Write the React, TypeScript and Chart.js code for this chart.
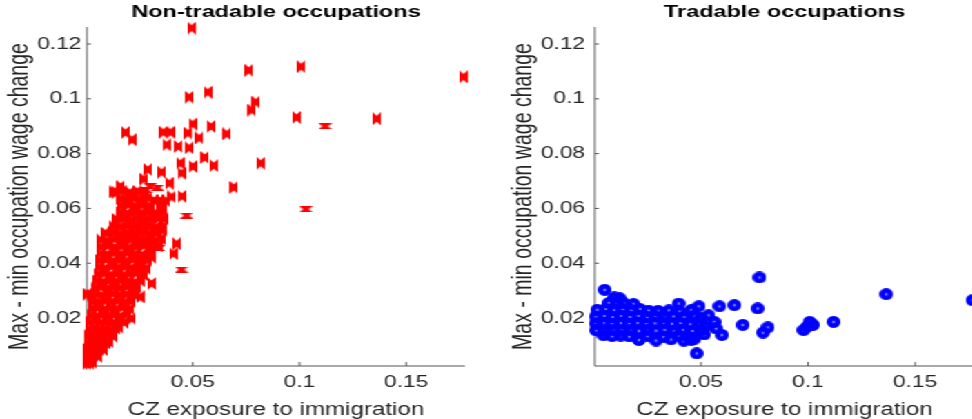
import React, { useEffect, useRef } from "react";
import { Chart, registerables } from "chart.js";

Chart.register(...registerables);

// ---------- data ----------
const X_MIN = 0.0004;
const X_MAX = 0.1776;
const Y_MIN = 0.0025;
const Y_MAX = 0.1262;

const xTickValues = [0.05, 0.1, 0.15];
const xTickLabels = ["0.05", "0.1", "0.15"];
const yTickValues = [0.02, 0.04, 0.06, 0.08, 0.1, 0.12];
const yTickLabels = ["0.02", "0.04", "0.06", "0.08", "0.1", "0.12"];

const panelTitles = ["Non-tradable occupations", "Tradable occupations"];
const xAxisTitle = "CZ exposure to immigration";
const yAxisTitle = "Max - min occupation wage change";

// Non-tradable occupations: [exposure, wage change]
const nonTradable: [number, number][] = [
  [0.0005, 0.0035], [0.0018, 0.0035], [0.0032, 0.0038],
  [0.0005, 0.006], [0.002, 0.0058], [0.0038, 0.0062], [0.0055, 0.006],
  [0.0006, 0.0085], [0.0024, 0.0088], [0.0043, 0.0083], [0.0062, 0.0087], [0.008, 0.0085],
  [0.0008, 0.011], [0.0027, 0.0113], [0.0048, 0.0108], [0.007, 0.0112], [0.0092, 0.0109], [0.0106, 0.0114],
  [0.001, 0.0135], [0.0031, 0.0132], [0.0055, 0.0137], [0.0078, 0.0134], [0.0101, 0.0138], [0.0128, 0.0133],
  [0.0014, 0.016], [0.0036, 0.0163], [0.0062, 0.0158], [0.0088, 0.0161], [0.0112, 0.0157], [0.014, 0.0162], [0.0155, 0.0166],
  [0.0019, 0.0185], [0.0044, 0.0188], [0.007, 0.0183], [0.0097, 0.0186], [0.0124, 0.0182], [0.015, 0.0189], [0.0178, 0.0184],
  [0.0024, 0.021], [0.005, 0.0207], [0.0078, 0.0213], [0.0105, 0.0209], [0.0133, 0.0212], [0.016, 0.0206], [0.0192, 0.0214],
  [0.0028, 0.0235], [0.0056, 0.0238], [0.0085, 0.0232], [0.0113, 0.0236], [0.014, 0.0233], [0.017, 0.0239], [0.0205, 0.0234],
  [0.0032, 0.026], [0.006, 0.0257], [0.009, 0.0262], [0.012, 0.0259], [0.015, 0.0263], [0.018, 0.0258], [0.0212, 0.0261],
  [0.0006, 0.0287], [0.0022, 0.0284], [0.0045, 0.0288], [0.0072, 0.0283], [0.01, 0.0286], [0.0128, 0.0289], [0.0158, 0.0284], [0.019, 0.0287], [0.0228, 0.0283],
  [0.004, 0.031], [0.0068, 0.0313], [0.0098, 0.0308], [0.0128, 0.0312], [0.0158, 0.0309], [0.0188, 0.0314], [0.0218, 0.0308], [0.024, 0.0311],
  [0.005, 0.0335], [0.0078, 0.0332], [0.0108, 0.0337], [0.0138, 0.0333], [0.0168, 0.0338], [0.0198, 0.0334], [0.0228, 0.0331], [0.0255, 0.0336],
  [0.0056, 0.036], [0.0085, 0.0363], [0.0115, 0.0358], [0.0145, 0.0362], [0.0175, 0.0357], [0.0205, 0.0361], [0.0236, 0.0364], [0.0268, 0.0359],
  [0.006, 0.0385], [0.009, 0.0382], [0.012, 0.0388], [0.015, 0.0384], [0.0182, 0.0387], [0.0212, 0.0383], [0.0244, 0.0386], [0.028, 0.0382],
  [0.0062, 0.041], [0.0093, 0.0413], [0.0125, 0.0408], [0.0157, 0.0412], [0.0188, 0.0409], [0.022, 0.0414], [0.0252, 0.0408], [0.029, 0.0411],
  [0.0066, 0.0435], [0.0098, 0.0432], [0.013, 0.0437], [0.0163, 0.0433], [0.0195, 0.0438], [0.0228, 0.0434], [0.0262, 0.0431], [0.03, 0.0436],
  [0.007, 0.046], [0.0102, 0.0463], [0.0135, 0.0458], [0.0168, 0.0462], [0.02, 0.0457], [0.0235, 0.0461], [0.027, 0.0464], [0.031, 0.0459], [0.0338, 0.0464],
  [0.0068, 0.0485], [0.01, 0.0482], [0.0132, 0.0488], [0.0175, 0.0484], [0.021, 0.0487], [0.0245, 0.0483], [0.0282, 0.0486], [0.0322, 0.0482], [0.035, 0.049],
  [0.009, 0.051], [0.0122, 0.0513], [0.016, 0.0508], [0.0195, 0.0512], [0.023, 0.0509], [0.0265, 0.0514], [0.03, 0.0508], [0.0335, 0.0511],
  [0.0125, 0.0535], [0.0158, 0.0532], [0.019, 0.0537], [0.0222, 0.0533], [0.0255, 0.0538], [0.029, 0.0534], [0.0325, 0.0531], [0.0362, 0.0536],
  [0.0142, 0.056], [0.0175, 0.0563], [0.0208, 0.0558], [0.024, 0.0562], [0.0272, 0.0557], [0.0305, 0.0561], [0.034, 0.0564], [0.0368, 0.0562],
  [0.016, 0.0585], [0.0192, 0.0582], [0.0225, 0.0588], [0.0258, 0.0584], [0.029, 0.0587], [0.0325, 0.0583], [0.036, 0.0586],
  [0.0168, 0.061], [0.02, 0.0613], [0.0232, 0.0608], [0.0265, 0.0612], [0.03, 0.0609], [0.0345, 0.0611],
  [0.0158, 0.0635], [0.019, 0.0632], [0.0222, 0.0637], [0.0255, 0.0633], [0.029, 0.0638], [0.0318, 0.0629], [0.0375, 0.0628],
  [0.013, 0.066], [0.017, 0.0663], [0.0205, 0.0657], [0.024, 0.0662], [0.0275, 0.0659],
  [0.0214, 0.0198], [0.0253, 0.0277], [0.0307, 0.0326], [0.0307, 0.0422], [0.0409, 0.0435], [0.0424, 0.0471],
  [0.0362, 0.052], [0.0276, 0.0556], [0.0346, 0.0629], [0.0362, 0.0611], [0.0401, 0.0642], [0.0449, 0.0644],
  [0.0141, 0.0659], [0.0162, 0.068], [0.0206, 0.0655], [0.0271, 0.0707], [0.0289, 0.0742], [0.0354, 0.0732],
  [0.039, 0.0692], [0.0447, 0.0729], [0.0441, 0.0765], [0.05, 0.0753], [0.0598, 0.0756], [0.0556, 0.0786],
  [0.0692, 0.0677], [0.0818, 0.0765],
  [0.0184, 0.0877], [0.0215, 0.0851], [0.0362, 0.0878], [0.0396, 0.0878], [0.0377, 0.0832], [0.0432, 0.0826],
  [0.0478, 0.0875], [0.0499, 0.0908], [0.0483, 0.0821], [0.053, 0.0857], [0.0585, 0.0899], [0.0659, 0.0872],
  [0.0483, 0.1006], [0.057, 0.1024], [0.0776, 0.0959], [0.0795, 0.0988], [0.0986, 0.0932], [0.1362, 0.0927],
  [0.0763, 0.1104], [0.1008, 0.1117], [0.1768, 0.108], [0.0494, 0.1258],
];

// Non-tradable occupations whose marker is drawn flattened
const nonTradableWide: [number, number][] = [
  [0.112, 0.09], [0.103, 0.0597], [0.0471, 0.0574], [0.0447, 0.0377],
  [0.03, 0.068], [0.0335, 0.0676], [0.028, 0.0668], [0.034, 0.0455], [0.0225, 0.0495],
];

// Tradable occupations: [exposure, wage change]
const tradable: [number, number][] = [
  [0.021, 0.012], [0.029, 0.0118], [0.036, 0.0122], [0.042, 0.0117], [0.0455, 0.0121],
  [0.0045, 0.0137], [0.0085, 0.0134], [0.0125, 0.0136], [0.0165, 0.0133], [0.025, 0.0135], [0.0325, 0.0132], [0.0395, 0.0136], [0.044, 0.0131],
  [0.001, 0.0155], [0.005, 0.0152], [0.009, 0.0157], [0.013, 0.0154], [0.017, 0.0156], [0.021, 0.0153], [0.025, 0.0157], [0.029, 0.0154], [0.033, 0.0156], [0.0375, 0.0152], [0.0415, 0.0157], [0.046, 0.0153], [0.0505, 0.0156],
  [0.0008, 0.018], [0.0045, 0.0183], [0.0085, 0.0178], [0.0125, 0.0182], [0.0165, 0.0179], [0.0205, 0.0183], [0.0245, 0.0178], [0.0285, 0.0181], [0.0325, 0.0184], [0.0365, 0.0179], [0.0405, 0.0182], [0.045, 0.0177], [0.0495, 0.0181],
  [0.0008, 0.0205], [0.0048, 0.0208], [0.0088, 0.0203], [0.0128, 0.0207], [0.0168, 0.0204], [0.0208, 0.0208], [0.0248, 0.0203], [0.0288, 0.0206], [0.033, 0.0202], [0.0372, 0.0207], [0.042, 0.0204], [0.047, 0.0209],
  [0.0015, 0.023], [0.0055, 0.0233], [0.0095, 0.0228], [0.0135, 0.0232], [0.0175, 0.0229], [0.0215, 0.0233], [0.0255, 0.0227], [0.03, 0.0226], [0.035, 0.0228], [0.04, 0.0224],
  [0.007, 0.0255], [0.0105, 0.0258], [0.014, 0.0254], [0.0185, 0.0251],
  [0.0095, 0.0275], [0.012, 0.0272],
  [0.005, 0.0303], [0.0396, 0.0253], [0.049, 0.0243], [0.0454, 0.0229], [0.048, 0.0071], [0.0586, 0.0243],
  [0.0656, 0.0247], [0.0773, 0.0348], [0.0765, 0.0235], [0.0695, 0.0175], [0.0598, 0.0138], [0.0562, 0.0186],
  [0.057, 0.0162], [0.0789, 0.0147], [0.0812, 0.0166], [0.0979, 0.0156], [0.1007, 0.0186], [0.1023, 0.0175],
  [0.0995, 0.0168], [0.1119, 0.0186], [0.1365, 0.0287], [0.1768, 0.0265],
  [0.05, 0.02], [0.052, 0.017], [0.0535, 0.021], [0.047, 0.0125], [0.0515, 0.014],
];

// ---------- styling ----------
const STRETCH = 1.38; // the figure is rendered horizontally stretched
const FONT = "'Liberation Sans', Arial, Helvetica, sans-serif";
const TEXT_COLOR = "#262626";
const AXIS_COLOR = "#555555";
const RED = "#ff0000";
const BLUE = "#0000ff";
const CANVAS_H = 440;

function makeBowtie(w: number, h: number, vertical: boolean) {
  const c = document.createElement("canvas");
  c.width = w;
  c.height = h;
  const g = c.getContext("2d")!;
  g.fillStyle = RED;
  g.beginPath();
  if (vertical) {
    const n = h * 0.27;
    g.moveTo(0, 0);
    g.lineTo(w / 2, n);
    g.lineTo(w, 0);
    g.lineTo(w, h);
    g.lineTo(w / 2, h - n);
    g.lineTo(0, h);
  } else {
    const n = w * 0.3;
    g.moveTo(0, 0);
    g.lineTo(w, 0);
    g.lineTo(w - n, h / 2);
    g.lineTo(w, h);
    g.lineTo(0, h);
    g.lineTo(n, h / 2);
  }
  g.closePath();
  g.fill();
  return c;
}

function makeRing() {
  const c = document.createElement("canvas");
  c.width = 10;
  c.height = 12;
  const g = c.getContext("2d")!;
  g.strokeStyle = BLUE;
  g.lineWidth = 4.5;
  g.beginPath();
  g.ellipse(5, 6, 2.75, 3.75, 0, 0, Math.PI * 2);
  g.stroke();
  return c;
}

const axesPlugin = {
  id: "matlabAxes",
  beforeDatasetsDraw(chart: any) {
    const { ctx, chartArea, scales } = chart;
    const { left, right, top, bottom } = chartArea;
    ctx.save();
    ctx.strokeStyle = AXIS_COLOR;
    ctx.lineWidth = 1;
    ctx.beginPath();
    ctx.moveTo(left, top);
    ctx.lineTo(left, bottom);
    ctx.lineTo(right, bottom);
    xTickValues.forEach((v) => {
      const p = scales.x.getPixelForValue(v);
      ctx.moveTo(p, bottom);
      ctx.lineTo(p, bottom - 4);
    });
    yTickValues.forEach((v) => {
      const p = scales.y.getPixelForValue(v);
      ctx.moveTo(left, p);
      ctx.lineTo(left + 3, p);
    });
    ctx.stroke();
    ctx.restore();
  },
};

const toPoints = (arr: [number, number][]) => arr.map(([x, y]) => ({ x, y }));

function makeChart(canvas: HTMLCanvasElement, panel: number) {
  const yAxisWidth = panel === 0 ? 63 : 79;
  const padRight = panel === 0 ? 15 : 18;
  const tickPad = panel === 0 ? 4 : 7;
  const yTitlePad = panel === 0 ? 3 : 15.5;

  const datasets: any[] =
    panel === 0
      ? [
          { data: toPoints(nonTradable), pointStyle: makeBowtie(6, 13, true) },
          { data: toPoints(nonTradableWide), pointStyle: makeBowtie(10, 6, false) },
        ]
      : [{ data: toPoints(tradable), pointStyle: makeRing() }];
  datasets.forEach((d) => {
    d.pointRadius = 5;
    d.clip = false;
    d.backgroundColor = panel === 0 ? RED : BLUE;
    d.borderColor = panel === 0 ? RED : BLUE;
  });

  return new Chart(canvas, {
    type: "scatter",
    data: { datasets },
    options: {
      animation: false,
      responsive: false,
      devicePixelRatio: 1,
      layout: { padding: { left: 0, right: padRight, top: 0, bottom: 14 } },
      events: [],
      plugins: {
        legend: { display: false },
        tooltip: { enabled: false },
        title: {
          display: true,
          text: panelTitles[panel],
          fullSize: false,
          color: "#000",
          font: { family: FONT, size: 17, weight: "bold" },
          padding: { top: 2, bottom: 4.6 },
        },
      },
      scales: {
        x: {
          type: "linear",
          min: X_MIN,
          max: X_MAX,
          afterFit: (s: any) => {
            s.height = 60;
          },
          afterBuildTicks: (s: any) => {
            s.ticks = xTickValues.map((v) => ({ value: v }));
          },
          ticks: {
            callback: (v: any) => xTickLabels[xTickValues.indexOf(Number(v))],
            color: TEXT_COLOR,
            font: { family: FONT, size: 16.5 },
            padding: 7,
            maxRotation: 0,
            autoSkip: false,
          },
          grid: { display: false, drawTicks: false },
          border: { display: false },
          title: {
            display: true,
            text: xAxisTitle,
            color: TEXT_COLOR,
            font: { family: FONT, size: 17.5 },
            padding: { top: 0, bottom: 5 },
          },
        },
        y: {
          type: "linear",
          min: Y_MIN,
          max: Y_MAX,
          afterFit: (s: any) => {
            s.width = yAxisWidth;
          },
          afterBuildTicks: (s: any) => {
            s.ticks = yTickValues.map((v) => ({ value: v }));
          },
          ticks: {
            callback: (v: any) => yTickLabels[yTickValues.indexOf(Number(v))],
            color: TEXT_COLOR,
            font: { family: FONT, size: 16.5 },
            padding: tickPad,
            autoSkip: false,
          },
          grid: { display: false, drawTicks: false },
          border: { display: false },
          title: {
            display: true,
            text: yAxisTitle,
            color: TEXT_COLOR,
            font: { family: FONT, size: 19.5 },
            padding: { top: yTitlePad, bottom: 0 },
          },
        },
      },
    } as any,
    plugins: [axesPlugin],
  });
}

export default function App() {
  const leftRef = useRef<HTMLCanvasElement>(null);
  const rightRef = useRef<HTMLCanvasElement>(null);

  useEffect(() => {
    const charts = [makeChart(leftRef.current!, 0), makeChart(rightRef.current!, 1)];
    return () => charts.forEach((c) => c.destroy());
  }, []);

  return (
    <div
      style={{
        position: "fixed",
        left: 0,
        top: 0,
        width: "100vw",
        height: "100vh",
        overflow: "hidden",
        background: "#fff",
      }}
    >
      <div
        style={{
          position: "absolute",
          left: 0,
          top: 0,
          width: 724,
          height: CANVAS_H,
          transform: `scaleX(${STRETCH})`,
          transformOrigin: "0 0",
        }}
      >
        <canvas
          ref={leftRef}
          width={352}
          height={CANVAS_H}
          style={{ position: "absolute", left: 0, top: 0, width: 352, height: CANVAS_H }}
        />
        <canvas
          ref={rightRef}
          width={372}
          height={CANVAS_H}
          style={{ position: "absolute", left: 352, top: 0, width: 372, height: CANVAS_H }}
        />
      </div>
    </div>
  );
}
